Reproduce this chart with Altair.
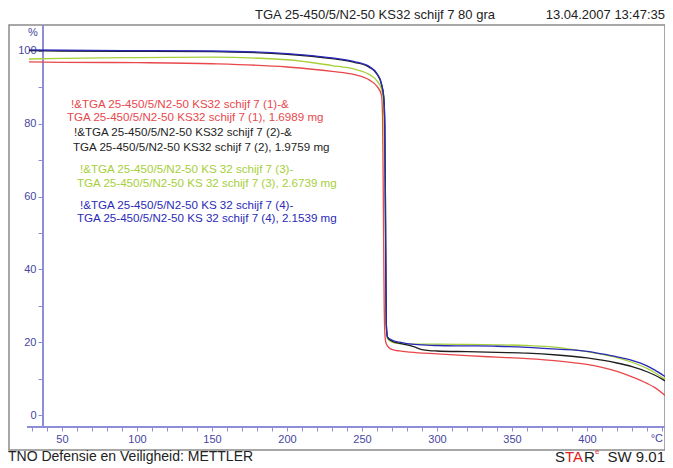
import altair as alt
import pandas as pd

# ---------------- data ----------------
T_red = [28, 50, 100, 150, 200, 230, 245, 255, 260, 263, 263.7, 264.0, 264.4, 264.8, 265.3, 266, 268, 271, 275, 282, 300, 320, 340, 360, 380, 400, 410, 420, 430, 440, 445, 452]
P_red = [97.0, 96.9, 96.8, 96.5, 95.6, 94.4, 93.5, 92.0, 90.3, 87.9, 82, 70, 50, 30, 22, 19.8, 18.5, 17.9, 17.6, 17.3, 16.8, 16.3, 15.9, 15.5, 14.9, 13.9, 13.1, 12.0, 10.5, 8.7, 7.6, 5.4]

T_black = [28, 50, 100, 150, 200, 230, 245, 255, 260, 263, 264.5, 265.2, 265.6, 265.9, 266.2, 267, 270, 275, 280, 285, 290, 295, 300, 320, 340, 360, 380, 400, 410, 420, 430, 440, 445, 452]
P_black = [100.1, 100.0, 99.9, 99.8, 99.1, 97.9, 96.9, 95.5, 93.6, 90.8, 87.3, 80, 60, 40, 25, 21.3, 20.3, 19.7, 19.3, 18.7, 18.0, 17.7, 17.6, 17.4, 17.2, 17.0, 16.5, 15.7, 15.1, 14.3, 13.3, 11.9, 11.0, 9.4]

T_green = [28, 50, 100, 150, 200, 230, 245, 255, 260, 263, 264.2, 265.0, 265.5, 265.9, 266.3, 267, 270, 275, 280, 300, 320, 340, 360, 380, 400, 410, 420, 430, 440, 445, 452]
P_green = [97.8, 98.0, 98.2, 98.3, 97.6, 96.0, 95.0, 93.5, 91.8, 89.5, 86.0, 70, 50, 35, 24, 21.0, 20.0, 19.6, 19.5, 19.5, 19.4, 19.3, 19.1, 18.6, 17.4, 16.7, 15.8, 14.5, 12.8, 11.7, 9.8]

T_blue = [28, 50, 100, 150, 200, 230, 245, 255, 260, 263, 264.5, 265.2, 265.6, 265.9, 266.2, 267, 270, 275, 280, 290, 300, 320, 340, 360, 380, 400, 410, 420, 430, 440, 445, 452]
P_blue = [100.3, 100.2, 100.1, 100.0, 99.3, 98.1, 97.1, 95.7, 93.8, 91.0, 87.5, 80, 60, 40, 25, 21.5, 20.6, 20.0, 19.6, 19.3, 19.1, 19.0, 18.9, 18.6, 18.1, 17.5, 16.8, 16.0, 15.0, 13.5, 12.4, 10.6]

series_names = ["red", "green", "black", "blue"]
series_colors = ["#e8474c", "#a6cf3a", "#1e1e1e", "#2a2ab8"]

legend_lines = [
    "!&TGA 25-450/5/N2-50 KS32 schijf 7 (1)-&",
    "TGA 25-450/5/N2-50 KS32 schijf 7 (1), 1.6989 mg",
    "!&TGA 25-450/5/N2-50 KS32 schijf 7 (2)-&",
    "TGA 25-450/5/N2-50 KS32 schijf 7 (2), 1.9759 mg",
    "!&TGA 25-450/5/N2-50 KS 32 schijf 7 (3)-",
    "TGA 25-450/5/N2-50 KS 32 schijf 7 (3), 2.6739 mg",
    "!&TGA 25-450/5/N2-50 KS 32 schijf 7 (4)-",
    "TGA 25-450/5/N2-50 KS 32 schijf 7 (4), 2.1539 mg",
]
legend_colors = ["#e8474c", "#e8474c", "#1e1e1e", "#1e1e1e", "#a6cf3a", "#a6cf3a", "#2a2ab8", "#2a2ab8"]
legend_xy = [(62, 80), (58, 93), (65, 108), (64, 123), (71, 145), (68, 159), (71, 181), (68, 194)]

x_ticks = list(range(30, 451, 10))
y_ticks = list(range(0, 101, 10))

title_text = "TGA 25-450/5/N2-50 KS32 schijf 7 80 gra"
date_text = "13.04.2007 13:47:35"
footer_text = "TNO Defensie en Veiligheid: METTLER"

# ---------------- build ----------------
rows = []
for name, ts, ps in [("red", T_red, P_red), ("green", T_green, P_green),
                     ("black", T_black, P_black), ("blue", T_blue, P_blue)]:
    for i, (t, p) in enumerate(zip(ts, ps)):
        rows.append({"T": t, "P": p, "series": name, "i": i})
df = pd.DataFrame(rows)

W, H = 656, 425
AX = "#4646a0"
AXL = "#8e8ed8"
LF = "Liberation Sans"

xs = alt.Scale(domain=[14.67, 452], nice=False, zero=False)
ys = alt.Scale(domain=[-9.6, 107.14], nice=False, zero=False)

lines = alt.Chart(df).mark_line(strokeWidth=1.3, interpolate="monotone").encode(
    x=alt.X("T:Q", scale=xs, title=None,
            axis=alt.Axis(values=x_ticks, offset=-23, domain=False, grid=False,
                          tickSize=4, tickColor=AXL, labelColor=AX, labelFont=LF,
                          labelFontSize=11, labelPadding=2, labelFlush=False,
                          labelExpr="datum.value % 50 == 0 && datum.value < 450 ? datum.label : ''")),
    y=alt.Y("P:Q", scale=ys, title=None,
            axis=alt.Axis(values=y_ticks, offset=-34, domain=False, grid=False,
                          tickSize=5, tickColor=AXL, labelColor=AX, labelFont=LF,
                          labelFontSize=11, labelPadding=2, labelFlush=False,
                          labelExpr="datum.value % 20 == 0 ? datum.label : ''")),
    color=alt.Color("series:N", scale=alt.Scale(domain=series_names, range=series_colors), legend=None),
    detail="series:N",
    order="i:Q",
)

yaxis_line = alt.Chart(df).mark_rule(color=AXL, strokeWidth=1.2).encode(
    x=alt.value(34), y=alt.value(0), y2=alt.value(402))
xaxis_line = alt.Chart(df).mark_rule(color=AXL, strokeWidth=1.2).encode(
    x=alt.value(18), x2=alt.value(W), y=alt.value(402))

def txt(s, x, y, color="#222222", size=13, align="left", font=LF, baseline="middle"):
    return alt.Chart(pd.DataFrame({"t": [s]})).mark_text(
        align=align, baseline=baseline, font=font, fontSize=size, color=color
    ).encode(text="t:N", x=alt.value(x), y=alt.value(y))

layers = [yaxis_line, xaxis_line, lines]
for s, c, (x, y) in zip(legend_lines, legend_colors, legend_xy):
    layers.append(txt(s, x, y, color=c, size=11.6))

layers.append(txt("%", 24, 8, color=AX, size=11, align="center"))
layers.append(txt("°C", W - 2, 414, color=AX, size=11, align="right"))
layers.append(txt(title_text, 366, -10, size=13, align="center"))
layers.append(txt(date_text, W, -10, size=13, align="right"))
layers.append(txt(footer_text, -1, 432, size=14))
# STARe SW 9.01
layers.append(txt("S", 546, 432, size=15))
layers.append(txt("TA", 556, 432, color="#e02020", size=15))
layers.append(txt("R", 575, 432, size=15))
layers.append(txt("e", 586, 427, color="#e04040", size=8))
layers.append(txt("SW 9.01", W, 432, size=15, align="right"))

chart = alt.layer(*layers).properties(
    width=W, height=H,
    autosize=alt.AutoSizeParams(type="none"),
    padding={"left": 1, "top": 17, "right": 0, "bottom": 18},
    background="white",
).configure_view(stroke="#8a8a8a", strokeWidth=1.5)

chart.save("out.html", embed_options={"renderer": "svg", "actions": False})
